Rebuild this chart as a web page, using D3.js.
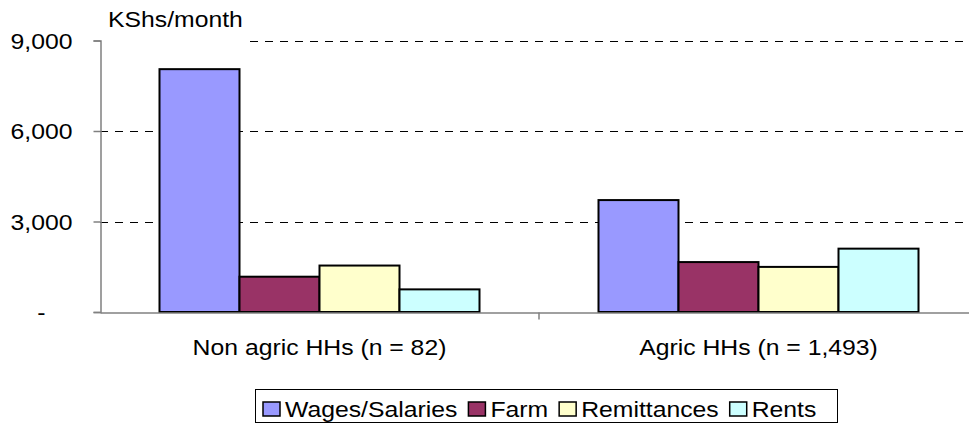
<!DOCTYPE html>
<html>
<head>
<meta charset="utf-8">
<script src="https://cdn.jsdelivr.net/npm/d3@7"></script>
<style>
  body { margin: 0; background: #fff; }
  text { font-family: Arial, "Liberation Sans", sans-serif; fill: #000; }
</style>
</head>
<body>
<div id="chart"></div>
<script>
"use strict";

const categories = ["Non agric HHs (n = 82)", "Agric HHs (n = 1,493)"];
const seriesNames = ["Wages/Salaries", "Farm", "Remittances", "Rents"];
const seriesColors = ["#9999FF", "#993366", "#FFFFCC", "#CCFFFF"];
const wages = [8050, 3710];
const farm = [1170, 1655];
const remittances = [1540, 1495];
const rents = [750, 2100];
const yTicks = [0, 3000, 6000, 9000];

const msm = {
    width: 969,
    height: 425,
    left: 100,
    right: 978,
    top: 40.5,
    bottom: 312
};
const fontSize = "22.5px";
const widen = 1.1;   // the source text is drawn a bit wider than Arial

const seriesValues = [wages, farm, remittances, rents];

function stretch(sel) {
    sel.each(function () {
        let w = this.getComputedTextLength();
        d3.select(this)
            .attr("textLength", w * widen)
            .attr("lengthAdjust", "spacingAndGlyphs");
    });
}

let svg = d3.select("#chart")
    .append("svg")
    .attr("width", msm.width)
    .attr("height", msm.height);

let yScale = d3.scaleLinear()
    .domain([0, 9000])
    .range([msm.bottom, msm.top]);

let xScale = d3.scaleBand()
    .domain(categories)
    .range([msm.left, msm.right]);

let inner = d3.scaleBand()
    .domain(seriesNames)
    .range([59.5, xScale.bandwidth() - 59.5]);

// dashed gridlines
svg.append("g")
    .selectAll("line")
    .data(yTicks.filter(d => d > 0))
    .enter()
    .append("line")
    .attr("x1", msm.left)
    .attr("x2", msm.width)
    .attr("y1", d => Math.round(yScale(d)) + 0.5)
    .attr("y2", d => Math.round(yScale(d)) + 0.5)
    .attr("stroke", "#000")
    .attr("stroke-width", 1)
    .attr("stroke-dasharray", "8,7");

// unit label sits on a white box over the top gridline
svg.append("rect")
    .attr("x", msm.left + 1)
    .attr("y", 8)
    .attr("width", 144)
    .attr("height", 36)
    .attr("fill", "#fff");

svg.append("text")
    .attr("x", 108)
    .attr("y", 27)
    .style("font-size", fontSize)
    .text("KShs/month")
    .call(stretch);

// bars
let groups = svg.append("g")
    .selectAll("g")
    .data(categories)
    .enter()
    .append("g")
    .attr("transform", d => "translate(" + xScale(d) + ",0)");

groups.selectAll("rect")
    .data((c, i) => seriesNames.map((s, j) => ({ series: s, value: seriesValues[j][i], color: seriesColors[j] })))
    .enter()
    .append("rect")
    .attr("x", d => inner(d.series))
    .attr("y", d => yScale(d.value))
    .attr("width", inner.bandwidth())
    .attr("height", d => yScale(0) - yScale(d.value))
    .attr("fill", d => d.color)
    .attr("stroke", "#000")
    .attr("stroke-width", 2);

// y axis
let yAxis = d3.axisLeft(yScale)
    .tickValues(yTicks)
    .tickSize(7)
    .tickPadding(21)
    .tickFormat(d => d === 0 ? "-" : d3.format(",")(d));

let yG = svg.append("g")
    .attr("transform", "translate(" + (msm.left + 0.5) + ",0)")
    .call(yAxis);
yG.select(".domain").attr("stroke", "#808080").attr("stroke-width", 1.5);
yG.selectAll(".tick line").attr("stroke", "#808080").attr("stroke-width", 1.5);
yG.selectAll(".tick text")
    .style("font-size", fontSize)
    .attr("fill", "#000")
    .attr("dy", "0.35em")
    .call(stretch);
yG.selectAll(".tick text")
    .filter(d => d === 0)
    .attr("x", -55);

// x axis
let xAxis = d3.axisBottom(xScale)
    .tickSize(0)
    .tickPadding(27);

let xG = svg.append("g")
    .attr("transform", "translate(0," + (msm.bottom + 0.5) + ")")
    .call(xAxis);
xG.select(".domain").attr("stroke", "#808080").attr("stroke-width", 1.5);
xG.selectAll(".tick text")
    .style("font-size", fontSize)
    .attr("fill", "#000")
    .call(stretch);

// tick marks between categories
xG.selectAll(".sep")
    .data(categories)
    .enter()
    .append("line")
    .attr("x1", d => xScale(d) + xScale.bandwidth())
    .attr("x2", d => xScale(d) + xScale.bandwidth())
    .attr("y1", 0)
    .attr("y2", 7)
    .attr("stroke", "#808080")
    .attr("stroke-width", 1.5);

// legend
let legend = svg.append("g");
legend.append("rect")
    .attr("x", 255.5)
    .attr("y", 389.5)
    .attr("width", 582)
    .attr("height", 33)
    .attr("fill", "#fff")
    .attr("stroke", "#000")
    .attr("stroke-width", 1);

let cursor = 263;
seriesNames.forEach((name, i) => {
    let item = legend.append("g")
        .attr("transform", "translate(" + cursor + ",402)");
    item.append("rect")
        .attr("width", 17)
        .attr("height", 14)
        .attr("fill", seriesColors[i])
        .attr("stroke", "#000")
        .attr("stroke-width", 1.5);
    let t = item.append("text")
        .attr("x", 22)
        .attr("y", 15)
        .style("font-size", fontSize)
        .text(name);
    let w = t.node().getComputedTextLength() * widen;
    t.call(stretch);
    cursor += 22 + w + 11;
});
</script>
</body>
</html>
